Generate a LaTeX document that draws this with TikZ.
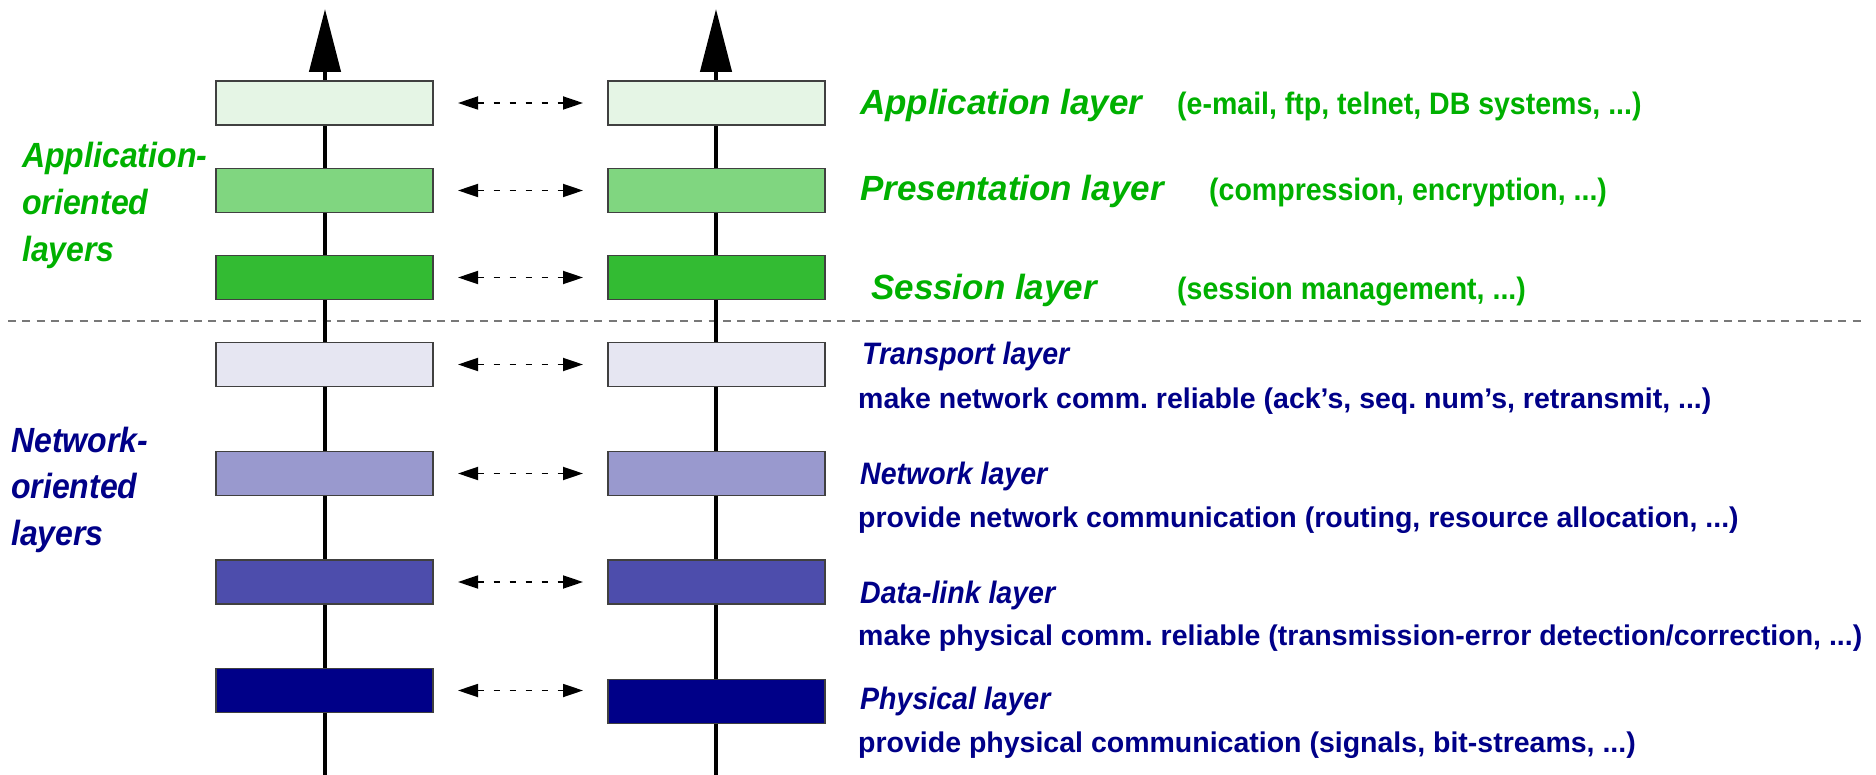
\documentclass[tikz,border=0pt]{standalone}
\usepackage{fontspec}
\setmainfont{Liberation Sans}
\newfontfamily\condfont[FakeStretch=0.92]{Liberation Sans}
\newfontfamily\sidefont[FakeStretch=0.915]{Liberation Sans}
\usetikzlibrary{arrows.meta}
\definecolor{ogreen}{RGB}{0,176,0}
\definecolor{onavy}{RGB}{0,0,136}
\definecolor{boxline}{RGB}{64,64,64}
\definecolor{sepgray}{RGB}{120,120,120}
\definecolor{fillA}{RGB}{229,245,229}
\definecolor{fillP}{RGB}{128,214,128}
\definecolor{fillS}{RGB}{51,187,51}
\definecolor{fillT}{RGB}{230,230,242}
\definecolor{fillN}{RGB}{153,153,206}
\definecolor{fillD}{RGB}{77,77,172}
\definecolor{fillPh}{RGB}{0,0,136}
\frenchspacing
\begin{document}
\begin{tikzpicture}[x=1pt,y=-1pt,
  layerbox/.style={draw=boxline, line width=1.5pt, minimum width=217pt, minimum height=44pt, inner sep=0pt, outer sep=0pt},
  axisline/.style={line width=4.5pt, -{Triangle[length=63pt,width=31pt]}},
  peer/.style={line width=1.8pt, dash pattern=on 6pt off 10pt, {Triangle[length=20pt,width=13pt]}-{Triangle[length=20pt,width=13pt]}},
  sepline/.style={draw=sepgray, line width=2pt, dash pattern=on 8pt off 6.3pt},
  greenname/.style={font=\fontsize{35}{40}\selectfont\bfseries\itshape, text=ogreen, inner sep=0pt, anchor=base west},
  greennote/.style={font=\condfont\fontsize{31}{36}\selectfont\bfseries, text=ogreen, inner sep=0pt, anchor=base west},
  bluename/.style={font=\condfont\fontsize{31}{36}\selectfont\bfseries\itshape, text=onavy, inner sep=0pt, anchor=base west},
  bluenote/.style={font=\fontsize{28.5}{34}\selectfont\bfseries, text=onavy, inner sep=0pt, anchor=base west},
  sidegreen/.style={font=\sidefont\fontsize{35}{40}\selectfont\bfseries\itshape, text=ogreen, inner sep=0pt, anchor=base west},
  sideblue/.style={font=\sidefont\fontsize{35}{40}\selectfont\bfseries\itshape, text=onavy, inner sep=0pt, anchor=base west}
]
\useasboundingbox (0,0) rectangle (1876,775);

% separator
\coordinate (sepL) at (8,321);
\coordinate (sepR) at (1864,321);
\draw[sepline] (sepL) -- (sepR);

% axes
\coordinate (lbot) at (325,775);
\coordinate (ltop) at (325,9);
\coordinate (rbot) at (716,775);
\coordinate (rtop) at (716,9);
\draw[axisline] (lbot) -- (ltop);
\draw[axisline] (rbot) -- (rtop);

% left stack
\node[layerbox, fill=fillA]  (lA) at (324.5,103) {};
\node[layerbox, fill=fillP]  (lP) at (324.5,190.5) {};
\node[layerbox, fill=fillS]  (lS) at (324.5,277.5) {};
\node[layerbox, fill=fillT]  (lT) at (324.5,364.5) {};
\node[layerbox, fill=fillN]  (lN) at (324.5,473.5) {};
\node[layerbox, fill=fillD]  (lD) at (324.5,582) {};
\node[layerbox, fill=fillPh] (lPh) at (324.5,690.5) {};

% right stack
\node[layerbox, fill=fillA]  (rA) at (716.5,103) {};
\node[layerbox, fill=fillP]  (rP) at (716.5,190.5) {};
\node[layerbox, fill=fillS]  (rS) at (716.5,277.5) {};
\node[layerbox, fill=fillT]  (rT) at (716.5,364.5) {};
\node[layerbox, fill=fillN]  (rN) at (716.5,473.5) {};
\node[layerbox, fill=fillD]  (rD) at (716.5,582) {};
\node[layerbox, fill=fillPh] (rPh) at (716.5,701.5) {};

% peer arrows
\foreach \n in {A,P,S,T,N,D,Ph}{
  \draw[peer] ([xshift=25pt]l\n.east) -- ([xshift=-25pt]l\n.east -| r\n.west);
}

% side labels
\node[sidegreen] (ag1) at (22,168) {Application-};
\node[sidegreen] (ag2) at (22,215) {oriented};
\node[sidegreen] (ag3) at (22,262) {layers};
\node[sideblue] (nb1) at (11,452) {Network-};
\node[sideblue] (nb2) at (11,498) {oriented};
\node[sideblue] (nb3) at (11,545) {layers};

% green layer texts
\node[greenname] (tA) at (860,115) {Application layer};
\node[greennote] (dA) at (1177,115) {(e-mail, ftp, telnet, DB systems, ...)};
\node[greenname] (tP) at (860,201) {Presentation layer};
\node[greennote] (dP) at (1209,201) {(compression, encryption, ...)};
\node[greenname] (tS) at (871,300) {Session layer};
\node[greennote] (dS) at (1177,300) {(session management, ...)};

% blue layer texts
\node[bluename] (tT) at (862,365) {Transport layer};
\node[bluenote] (dT) at (858,408) {make network comm. reliable (ack's, seq. num's, retransmit, ...)};
\node[bluename] (tN) at (860,484) {Network layer};
\node[bluenote] (dN) at (858,527) {provide network communication (routing, resource allocation, ...)};
\node[bluename] (tD) at (860,603) {Data-link layer};
\node[bluenote] (dD) at (858,645) {make physical comm. reliable (transmission-error detection/correction, ...)};
\node[bluename] (tPh) at (860,709) {Physical layer};
\node[bluenote] (dPh) at (858,752) {provide physical communication (signals, bit-streams, ...)};
\end{tikzpicture}
\end{document}
